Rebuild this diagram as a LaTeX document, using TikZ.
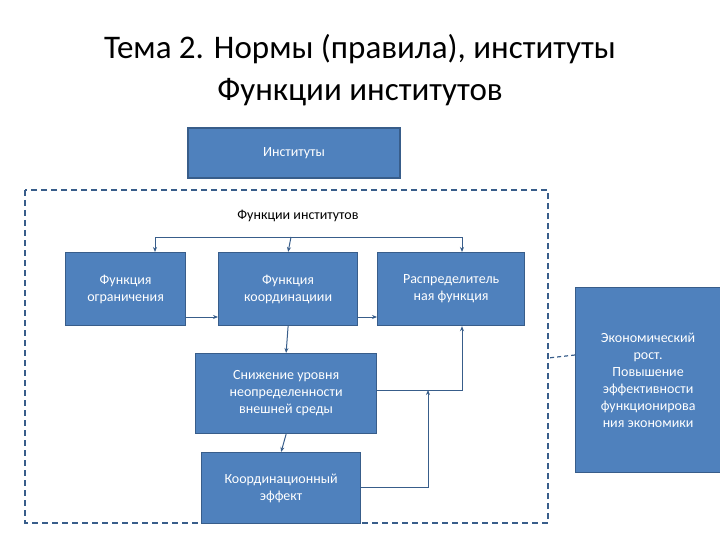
\documentclass[tikz,border=0pt]{standalone}
\usepackage{fontspec}
\setmainfont{Carlito}
\usetikzlibrary{arrows.meta}
\definecolor{bfill}{HTML}{4F81BD}
\definecolor{bdraw}{HTML}{385D8A}
\begin{document}
\begin{tikzpicture}[x=1pt,y=-1pt,
 box/.style={draw=bdraw,line width=1.2pt,fill=bfill,text=white,font=\fontsize{14}{17}\selectfont,align=center,inner sep=2pt},
 con/.style={draw=bdraw,line width=1pt,-{Stealth[length=5pt,width=4pt]}}]
\useasboundingbox (0,0) rectangle (720,540);
\node[font=\fontsize{33}{42}\selectfont,align=center] (title) at (360,70) {Тема 2. Нормы (правила), институты\\Функции институтов};
\node[box,minimum width=212,minimum height=50] (inst) at (294,153) {Институты};
\draw[bdraw,line width=1.3pt,dash pattern=on 6pt off 4pt] (25,190) rectangle (548,523);
\node[font=\fontsize{14}{17}\selectfont] (fl) at (298,216) {Функции институтов};
\node[box,minimum width=120,minimum height=73,anchor=north west] (og) at (65,252) {Функция\\ограничения};
\node[box,minimum width=139,minimum height=73,anchor=north west] (ko) at (218,252) {Функция\\координациии};
\node[box,minimum width=147,minimum height=73,anchor=north west] (ra) at (377,252) {Распределитель\\ная функция};
\node[box,minimum width=181,minimum height=80,anchor=north west] (sn) at (195,353) {Снижение уровня\\неопределенности\\внешней среды};
\node[box,minimum width=159,minimum height=71,anchor=north west] (ke) at (201,452) {Координационный\\эффект};
\node[box,minimum width=145,minimum height=185,anchor=north west] (ec) at (575,287) {Экономический\\рост.\\Повышение\\эффективности\\функционирова\\ния экономики};
\coordinate (b1) at (155,237); \coordinate (b3) at (462,237);
\draw[bdraw,line width=1pt] (b1) -- (b3);
\draw[con] (b1) -- (og.north -| b1);
\draw[con] (291,237) -- (ko.north);
\draw[con] (b3) -- (ra.north -| b3);
\draw[con] (og.east |- 0,317) -- (ko.west |- 0,317);
\draw[con] (ko.east |- 0,317) -- (ra.west |- 0,317);
\draw[con] (ko.south) -- (sn.north);
\draw[con] (sn.south) -- (ke.north);
\coordinate (j1) at (462,390); \coordinate (j2) at (428,390);
\draw[con] (sn.east |- j1) -- (j1) -- (ra.south -| j1);
\draw[con] (ke.east |- 0,487) -- (428,487) -- (j2);
\draw[bdraw,line width=1.2pt,dash pattern=on 4pt off 3pt] (ec.west |- 0,355) -- (548,358);
\end{tikzpicture}
\end{document}
